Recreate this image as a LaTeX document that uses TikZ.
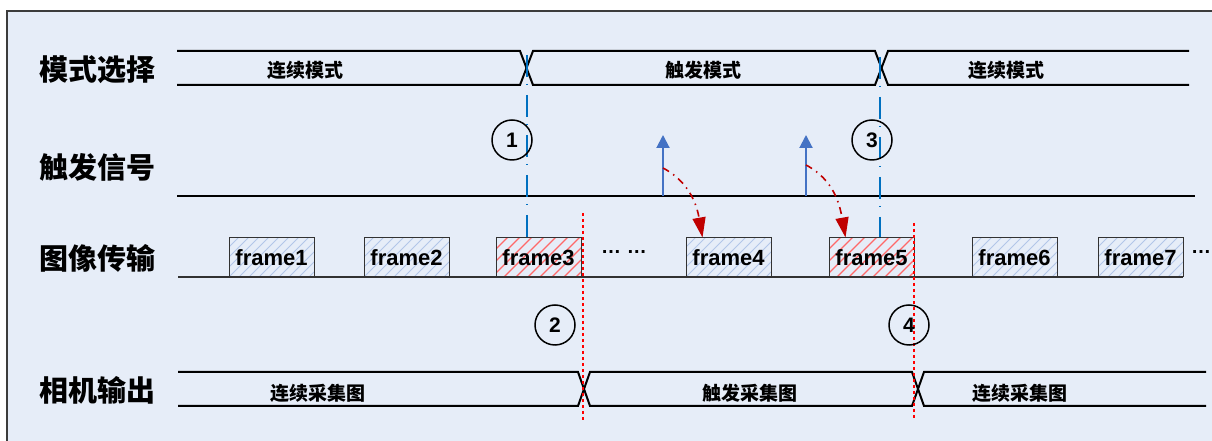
\documentclass[tikz,border=0pt]{standalone}
\usepackage{fontspec}
\setmainfont{Liberation Sans}
\newfontfamily\cjk{Noto Sans CJK SC}
\usetikzlibrary{arrows.meta}
\definecolor{bgblue}{RGB}{230,237,248}
\definecolor{bordergray}{RGB}{60,60,60}
\definecolor{boxgray}{RGB}{50,50,50}
\definecolor{markblue}{RGB}{0,112,192}
\definecolor{trigblue}{RGB}{68,114,196}
\definecolor{delayred}{RGB}{192,0,0}
\definecolor{cutred}{RGB}{255,0,0}
\definecolor{hatchblue}{RGB}{178,198,232}
\definecolor{hatchred}{RGB}{255,105,105}
\tikzset{
  rowlabel/.style={anchor=west, inner sep=0pt,
    font=\cjk\bfseries\fontsize{29}{31}\selectfont},
  phase/.style={inner sep=0pt, font=\cjk\bfseries\fontsize{19}{21}\selectfont},
  bus/.style={line width=2pt, color=black},
  txline/.style={line width=1.2pt, color=boxgray},
  framebox/.style={draw=boxgray, line width=1pt, minimum width=85pt,
    minimum height=39pt, inner sep=0pt,
    font=\bfseries\fontsize{22}{24}\selectfont},
  bluehatch/.style={path picture={
    \foreach \k in {-40,-30,...,90}
      \draw[hatchblue, line width=0.8pt]
        ([xshift=\k pt]path picture bounding box.south west) -- ++(45pt,45pt);}},
  redhatch/.style={path picture={
    \foreach \k in {-40,-28,...,90}
      \draw[hatchred, line width=1.3pt]
        ([xshift=\k pt]path picture bounding box.south west) -- ++(45pt,45pt);}},
  numcirc/.style={circle, draw=black, line width=1.5pt, minimum size=40pt,
    inner sep=0pt, font=\bfseries\fontsize{21}{23}\selectfont},
  markline/.style={markblue, line width=2pt,
    dash pattern=on 22pt off 7pt on 1.5pt off 9.5pt},
  cutline/.style={cutred, line width=2pt, dash pattern=on 3pt off 3pt},
  trigarrow/.style={-{Triangle[length=13pt,width=13pt]}, trigblue, line width=2pt},
  delayarrow/.style={-{Triangle[length=20pt,width=13pt]}, delayred, line width=1.6pt,
    dash pattern=on 7pt off 5pt on 1.5pt off 5pt},
  dots/.style={anchor=base, inner sep=0pt,
    font=\bfseries\fontsize{20}{22}\selectfont}
}

\begin{document}
\begin{tikzpicture}[x=1pt, y=1pt]
  \useasboundingbox (0,0) rectangle (1212,441);
  \clip (0,0) rectangle (1212,441);

  % Panel
  \draw[fill=bgblue, draw=bordergray, line width=1.5pt] (7,-20) rectangle (1240,430);

  % Row labels
  \node[rowlabel] (lblmode) at (39,371) {模式选择};
  \node[rowlabel] (lbltrig) at (39,274) {触发信号};
  \node[rowlabel] (lbltx)   at (39,183) {图像传输};
  \node[rowlabel] (lblout)  at (39,51)  {相机输出};

  % Mode select bus
  \draw[bus] (177,390) -- (520,390) -- (533,356) -- (875,356) -- (888,390) -- (1189,390);
  \draw[bus] (177,356) -- (520,356) -- (533,390) -- (875,390) -- (888,356) -- (1189,356);
  \node[phase] (modecont1) at (305,371) {连续模式};
  \node[phase] (modetrig)  at (703,371) {触发模式};
  \node[phase] (modecont2) at (1006,371) {连续模式};

  % Trigger signal
  \draw[bus] (177,245) -- (1195,245);

  % Image transfer
  \draw[txline] (178,164) -- (1183,164);
  \foreach \n/\x in {1/271.5, 2/406.5, 4/728.5, 6/1014.5, 7/1140.5}
    \node[framebox, bluehatch] (f\n) at (\x,183.5) {frame\n};
  \foreach \n/\x in {3/538.5, 5/871.5}
    \node[framebox, redhatch] (f\n) at (\x,183.5) {frame\n};
  \node[dots] (gap1) at (624,187) {… …};
  \node[dots] (gap2) at (1201,187) {…};

  % Camera output bus
  \draw[bus] (178,69) -- (578,69) -- (590,35) -- (912,35) -- (924,69) -- (1206,69);
  \draw[bus] (178,35) -- (578,35) -- (590,69) -- (912,69) -- (924,35) -- (1206,35);
  \node[phase] (outcont1) at (318,48) {连续采集图};
  \node[phase] (outtrig)  at (750,48) {触发采集图};
  \node[phase] (outcont2) at (1020,48) {连续采集图};

  % Mode switch markers
  \coordinate (m1) at (527,386);
  \coordinate (m3) at (880,384);
  \draw[markline] (m1) -- (m1 |- f3.north);
  \draw[markline] (m3) -- (m3 |- f5.north);

  % Output switch markers
  \coordinate (cut2top) at (583,228);
  \coordinate (cut2bot) at (583,21);
  \coordinate (cut4top) at (914,218);
  \coordinate (cut4bot) at (914,21);
  \draw[cutline] (cut2top) -- (cut2bot);
  \draw[cutline] (cut4top) -- (cut4bot);

  % Trigger pulses
  \coordinate (trig1) at (663,245);
  \coordinate (trig1tip) at (663,306);
  \coordinate (trig2) at (806,245);
  \coordinate (trig2tip) at (806,306);
  \draw[trigarrow] (trig1) -- (trig1tip);
  \draw[trigarrow] (trig2) -- (trig2tip);

  % Trigger to frame
  \coordinate (d1) at (663,273);
  \coordinate (d2) at (806,276);
  \draw[delayarrow] (d1) to[out=-28, in=100] ([xshift=17pt]f4.north west);
  \draw[delayarrow] (d2) to[out=-28, in=100] ([xshift=17pt]f5.north west);

  % Step numbers
  \node[numcirc] (c1) at (512,301) {1};
  \node[numcirc] (c2) at (555,116) {2};
  \node[numcirc] (c3) at (872,301) {3};
  \node[numcirc] (c4) at (909,116) {4};
\end{tikzpicture}
\end{document}
